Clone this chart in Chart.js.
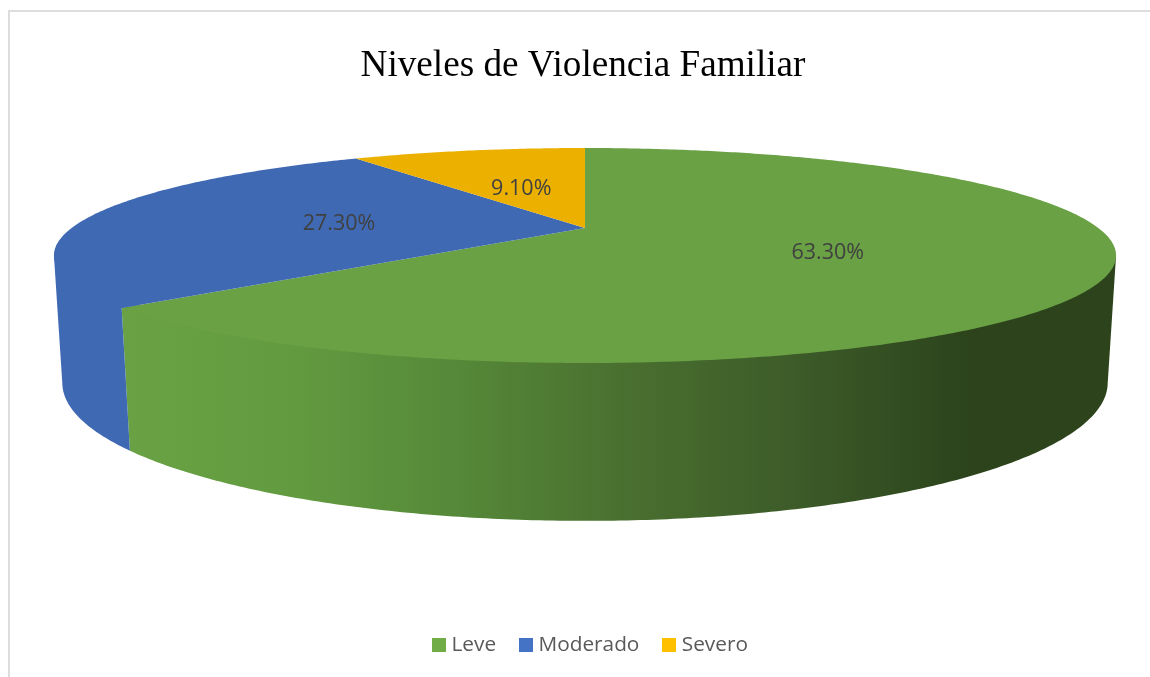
<!DOCTYPE html>
<html>
<head>
<meta charset="utf-8">
<script src="https://cdn.jsdelivr.net/npm/chart.js@4"></script>
<style>
html, body { margin: 0; padding: 0; background: #fff; overflow: hidden; }
#frame { position: absolute; left: 8px; top: 10px; width: 1142px; height: 667px; border-left: 2px solid #ddd; border-top: 2px solid #ddd; box-sizing: border-box; }
#wrap { position: absolute; left: 6px; top: 0; width: 1150px; height: 677px; }
</style>
</head>
<body>
<div id="frame"></div>
<div id="wrap"><canvas id="chart" width="1150" height="677"></canvas></div>
<script>
const categories = ["Leve", "Moderado", "Severo"];
const values = [63.3, 27.3, 9.1];
const legendColors = ["#70ad47", "#4472c4", "#ffc000"];
const faceColors = ["#69a144", "#3f69b3", "#ecb100"];
const wallColors = [null, "#3f69b3", "#b58800"];
const leveWallStops = [
    [130, "#69a144"], [300, "#629a40"], [460, "#558838"], [620, "#4a7030"], [790, "#3d5c29"], [970, "#2c431c"], [1110, "#2c431c"]
];

// perspective of the tilted pie, measured on the picture
const APEX_Y = 228;
const PERSP = 0.2558;
const TILT = 42.14;
const DEPTH_Y = 125.3;
const DEPTH_W = 0.015;
const WALL_FROM = 0.2587;
const STEP = 0.01;

function project(el, angle, t, z) {
    const u = Math.cos(angle) * t;
    const v = -Math.sin(angle) * t;
    const w = 1 + PERSP * v + DEPTH_W * z;
    return {
        x: el.x + el.outerRadius * u / w,
        y: (APEX_Y - TILT * v + DEPTH_Y * z) / w
    };
}

function rim(ctx, el, from, to, z, t) {
    const n = Math.max(2, Math.ceil(Math.abs(to - from) / STEP));
    for (let i = 0; i <= n; i++) {
        const p = project(el, from + (to - from) * i / n, t, z);
        ctx.lineTo(p.x, p.y);
    }
}

class TiltedArc extends Chart.ArcElement {
    drawWall(ctx, index) {
        const el = this.getProps(["x", "y", "startAngle", "endAngle", "outerRadius"]);
        const from = Math.max(el.startAngle, WALL_FROM);
        const to = Math.min(el.endAngle, Math.PI - WALL_FROM);
        if (to <= from) return;
        let fill = wallColors[index];
        if (!fill) {
            // canvas is shifted 6px in the page, stops are page x
            fill = ctx.createLinearGradient(-6, 0, 1144, 0);
            leveWallStops.forEach(s => fill.addColorStop(s[0] / 1150, s[1]));
        }
        // top edge runs a little inside the face so no light seam shows
        ctx.beginPath();
        rim(ctx, el, from, to, 0, 0.97);
        rim(ctx, el, to, to, 0, 1);
        rim(ctx, el, to, from, 1, 1);
        rim(ctx, el, from, from, 0, 1);
        ctx.closePath();
        ctx.fillStyle = fill;
        ctx.fill();
    }
    draw(ctx) {
        const el = this.getProps(["x", "y", "startAngle", "endAngle", "outerRadius"]);
        const apex = project(el, 0, 0, 0);
        ctx.beginPath();
        ctx.moveTo(apex.x, apex.y);
        rim(ctx, el, el.startAngle, el.endAngle, 0, 1);
        ctx.closePath();
        ctx.fillStyle = faceColors[this.$context ? this.$context.dataIndex : 0];
        ctx.fill();
    }
}
TiltedArc.id = "tiltedArc";
TiltedArc.defaults = Chart.ArcElement.defaults;

class TiltedPie extends Chart.PieController {
    draw() {
        const ctx = this.chart.ctx;
        this._cachedMeta.data.forEach((arc, i) => arc.drawWall(ctx, i));
        super.draw();
    }
}
TiltedPie.id = "tiltedPie";
TiltedPie.defaults = { dataElementType: "tiltedArc" };

Chart.register(TiltedArc, TiltedPie);

const percentLabels = {
    id: "percentLabels",
    afterDatasetsDraw(chart) {
        const ctx = chart.ctx;
        ctx.save();
        ctx.font = "21.5px 'Open Sans'";
        ctx.fillStyle = "#404040";
        ctx.textAlign = "center";
        ctx.textBaseline = "middle";
        chart.getDatasetMeta(0).data.forEach((arc, i) => {
            const p = project(arc, (arc.startAngle + arc.endAngle) / 2, 0.492, 0);
            ctx.fillText(values[i].toFixed(2) + "%", p.x, p.y + 3);
        });
        ctx.restore();
    }
};

// title and legend are not quite centred on the pie in the picture
const boxShift = {
    id: "boxShift",
    afterLayout(chart) {
        chart.legend.left += 7;
        chart.legend.right += 7;
        chart.titleBlock.left -= 2;
        chart.titleBlock.right -= 2;
    }
};

// square markers wider than the legend box, so the text sits close to them
function legendSquare(color) {
    const c = document.createElement("canvas");
    c.width = 14;
    c.height = 14;
    const g = c.getContext("2d");
    g.fillStyle = color;
    g.fillRect(0, 0, 14, 14);
    return c;
}

new Chart(document.getElementById("chart"), {
    type: "tiltedPie",
    data: {
        labels: categories,
        datasets: [{
            data: values,
            backgroundColor: legendColors,
            borderWidth: 0
        }]
    },
    options: {
        responsive: false,
        animation: false,
        radius: 513.4,
        layout: { padding: { left: 8, bottom: 12 } },
        plugins: {
            title: {
                display: true,
                text: "Niveles de Violencia Familiar",
                color: "#000",
                font: { family: "'Liberation Serif'", size: 37.2, weight: "normal" },
                padding: { top: 44, bottom: 20 }
            },
            legend: {
                position: "bottom",
                labels: {
                    usePointStyle: true,
                    pointStyleWidth: 5,
                    boxHeight: 14,
                    padding: 27,
                    color: "#595959",
                    font: { family: "'Open Sans'", size: 20.8 },
                    generateLabels(chart) {
                        const items = Chart.PieController.overrides.plugins.legend.labels.generateLabels(chart);
                        items.forEach((item, i) => { item.pointStyle = legendSquare(legendColors[i]); });
                        return items;
                    }
                }
            },
            tooltip: { enabled: false }
        }
    },
    plugins: [percentLabels, boxShift]
});
</script>
</body>
</html>
